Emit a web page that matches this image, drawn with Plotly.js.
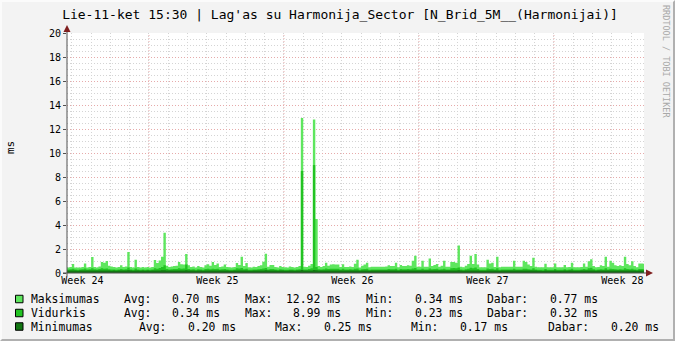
<!DOCTYPE html>
<html>
<head>
<meta charset="utf-8">
<script src="https://cdn.plot.ly/plotly-3.0.1.min.js"></script>
<style>
  html, body { margin: 0; padding: 0; background: #f3f3f3; }
  #wrap { position: relative; width: 675px; height: 341px; }
  #chart { width: 675px; height: 341px; }
  #frame { position: absolute; left: 0; top: 0; width: 675px; height: 341px; box-sizing: border-box;
           border-top: 2px solid #fbfbfb; border-left: 2px solid #fbfbfb;
           border-right: 2px solid #b0b0b0; border-bottom: 2px solid #b0b0b0; pointer-events: none; }
</style>
</head>
<body>
<div id="wrap"><div id="chart"></div><div id="frame"></div></div>
<script>
// ---- data (3-hour steps over 30 days, ms) ----
const stepDays = 0.125;
const weekLabels = ["Week 24", "Week 25", "Week 26", "Week 27", "Week 28"];
const weekLabelPos = [0.8, 7.8, 14.8, 21.8, 28.8];
const weekBoundaries = [4.25, 11.25, 18.25, 25.25];

const maksimumas = [
  0.45,0.5,0.75,0.45,0.45,0.45,0.5,0.8,0.45,0.5,
  1.33,0.5,0.45,0.55,0.92,0.86,1.0,0.6,0.55,0.5,
  0.45,0.5,0.64,0.5,0.55,1.75,0.5,0.45,1.1,0.5,
  0.45,0.5,0.45,0.5,0.45,0.5,1.08,0.83,1.05,1.36,
  3.36,0.6,0.5,0.55,0.58,0.6,0.92,0.72,0.7,1.58,
  0.64,0.5,0.55,0.45,0.58,0.5,0.45,0.65,0.72,0.6,
  0.92,0.67,0.8,0.5,0.55,0.7,0.5,0.47,0.45,0.5,
  0.83,0.67,1.36,0.58,0.83,0.47,0.45,0.53,0.5,0.58,
  0.64,0.94,1.6,0.53,0.67,0.67,0.5,0.45,0.58,0.5,
  0.47,0.45,0.55,0.5,0.45,0.5,0.58,12.92,0.53,0.5,
  0.6,0.75,12.8,4.5,0.58,0.5,0.58,0.86,0.6,0.7,
  0.72,0.7,0.7,0.5,0.72,0.5,0.5,0.55,0.5,0.78,
  1.1,0.45,0.6,0.7,0.86,0.47,0.53,0.53,0.53,0.53,
  0.53,0.53,0.55,0.64,0.58,0.58,0.86,0.47,0.67,0.58,
  0.58,0.64,0.6,1.03,1.44,0.53,0.53,1.03,0.53,0.53,
  1.2,0.58,0.67,0.75,0.53,0.6,1.03,0.53,0.53,0.92,
  0.92,0.86,2.3,0.53,0.47,0.6,0.75,1.44,0.75,1.58,
  0.7,0.47,0.47,0.47,1.1,0.8,0.86,0.5,1.36,0.47,
  0.53,0.53,0.53,0.53,0.53,1.03,0.53,0.53,0.53,1.03,
  0.92,0.7,0.58,1.28,0.53,0.47,0.47,0.47,0.78,0.47,
  0.47,0.47,0.8,0.47,0.47,0.47,0.67,0.47,0.5,0.86,
  0.47,0.47,0.47,0.5,0.8,0.53,0.97,1.14,0.58,0.47,
  0.5,0.64,0.58,1.36,0.53,1.03,0.86,0.64,0.58,0.64,
  0.58,1.36,0.75,0.64,0.97,0.58,0.47,0.8,0.8,0.77
];
const vidurkis = [
  0.3,0.32,0.36,0.3,0.28,0.3,0.32,0.38,0.3,0.32,
  0.4,0.32,0.3,0.34,0.4,0.36,0.38,0.32,0.3,0.3,
  0.28,0.3,0.34,0.3,0.32,0.45,0.3,0.28,0.38,0.3,
  0.28,0.3,0.28,0.3,0.28,0.3,0.4,0.36,0.42,0.5,
  0.64,0.34,0.3,0.32,0.34,0.34,0.4,0.36,0.38,0.7,
  0.34,0.3,0.32,0.28,0.32,0.3,0.28,0.34,0.36,0.32,
  0.36,0.34,0.36,0.3,0.32,0.34,0.3,0.28,0.28,0.3,
  0.4,0.38,0.42,0.32,0.36,0.28,0.28,0.3,0.3,0.32,
  0.34,0.38,0.42,0.3,0.34,0.34,0.3,0.28,0.32,0.3,
  0.28,0.28,0.3,0.3,0.28,0.3,0.32,8.5,0.3,0.3,
  0.34,0.4,8.99,0.5,0.32,0.3,0.32,0.38,0.34,0.36,
  0.36,0.36,0.36,0.3,0.36,0.3,0.3,0.32,0.3,0.36,
  0.38,0.28,0.32,0.34,0.36,0.28,0.3,0.3,0.3,0.3,
  0.3,0.3,0.3,0.34,0.32,0.32,0.36,0.28,0.34,0.32,
  0.32,0.34,0.32,0.38,0.42,0.3,0.3,0.36,0.3,0.3,
  0.38,0.32,0.34,0.36,0.3,0.32,0.36,0.3,0.3,0.4,
  0.42,0.4,0.46,0.3,0.28,0.32,0.36,0.44,0.4,0.46,
  0.34,0.28,0.28,0.28,0.38,0.34,0.36,0.3,0.4,0.28,
  0.3,0.3,0.3,0.3,0.3,0.36,0.3,0.3,0.3,0.36,
  0.36,0.32,0.3,0.4,0.3,0.28,0.28,0.28,0.34,0.28,
  0.28,0.28,0.34,0.28,0.28,0.28,0.32,0.28,0.3,0.36,
  0.28,0.28,0.28,0.3,0.34,0.3,0.4,0.44,0.32,0.28,
  0.3,0.32,0.3,0.4,0.3,0.36,0.34,0.32,0.3,0.32,
  0.3,0.4,0.34,0.32,0.36,0.3,0.28,0.34,0.34,0.32
];
const minimumas = [
  0.2,0.2,0.21,0.2,0.19,0.2,0.2,0.21,0.2,0.2,
  0.21,0.2,0.2,0.2,0.21,0.2,0.21,0.2,0.19,0.2,
  0.19,0.2,0.2,0.2,0.2,0.22,0.2,0.19,0.21,0.2,
  0.19,0.2,0.19,0.2,0.19,0.2,0.21,0.2,0.21,0.22,
  0.23,0.2,0.2,0.2,0.2,0.2,0.21,0.2,0.2,0.22,
  0.2,0.2,0.2,0.19,0.2,0.2,0.19,0.2,0.2,0.2,
  0.2,0.2,0.21,0.2,0.2,0.2,0.2,0.19,0.19,0.2,
  0.21,0.2,0.21,0.2,0.2,0.19,0.19,0.2,0.2,0.2,
  0.2,0.21,0.22,0.2,0.2,0.2,0.2,0.19,0.2,0.2,
  0.19,0.19,0.2,0.2,0.19,0.2,0.2,0.25,0.2,0.2,
  0.2,0.21,0.24,0.22,0.2,0.2,0.2,0.21,0.2,0.2,
  0.2,0.2,0.2,0.2,0.2,0.2,0.2,0.2,0.2,0.2,
  0.21,0.19,0.2,0.2,0.2,0.19,0.2,0.2,0.2,0.2,
  0.2,0.2,0.2,0.2,0.2,0.2,0.2,0.19,0.2,0.2,
  0.2,0.2,0.2,0.21,0.21,0.2,0.2,0.2,0.2,0.2,
  0.21,0.2,0.2,0.2,0.2,0.2,0.2,0.2,0.2,0.21,
  0.21,0.21,0.22,0.2,0.19,0.2,0.2,0.21,0.2,0.21,
  0.2,0.19,0.19,0.19,0.2,0.2,0.2,0.2,0.21,0.19,
  0.2,0.2,0.2,0.2,0.2,0.2,0.2,0.2,0.2,0.2,
  0.2,0.2,0.2,0.21,0.2,0.19,0.19,0.17,0.2,0.19,
  0.19,0.19,0.2,0.19,0.19,0.19,0.2,0.19,0.2,0.2,
  0.19,0.19,0.19,0.2,0.2,0.2,0.2,0.21,0.2,0.19,
  0.2,0.2,0.2,0.21,0.2,0.2,0.2,0.2,0.2,0.2,
  0.2,0.21,0.2,0.2,0.2,0.2,0.19,0.2,0.2,0.2
];

const seriesNames = ["Maksimumas", "Vidurkis", "Minimumas"];
const seriesColors = ["#5ee65e", "#22c322", "#127612"];
const statLabels = ["Avg:", "Max:", "Min:", "Dabar:"];
const statValues = [
  ["0.70 ms", "12.92 ms", "0.34 ms", "0.77 ms"],
  ["0.34 ms", "8.99 ms", "0.23 ms", "0.32 ms"],
  ["0.20 ms", "0.25 ms", "0.17 ms", "0.20 ms"]
];
const titleText = "Lie-11-ket 15:30 | Lag'as su Harmonija_Sector [N_Brid_5M__(Harmonijai)]";

// ---- geometry helpers (pixel -> paper) ----
const L = 67, T = 33, PW = 577, PH = 240;
const px2x = p => (p - L) / PW;
const py2y = p => (T + PH - p) / PH;
const MONO = "DejaVu Sans Mono, monospace";

function stepTrace(vals, color, name) {
  const x = vals.map((_, i) => i * stepDays);
  const y = vals.slice();
  x.push(vals.length * stepDays); y.push(vals[vals.length - 1]);
  return { x, y, name, type: "scatter", mode: "lines", line: { width: 0, shape: "hv" },
           fill: "tozeroy", fillcolor: color, hoverinfo: "skip", showlegend: false };
}
const data = [
  stepTrace(maksimumas, seriesColors[0], seriesNames[0]),
  stepTrace(vidurkis, seriesColors[1], seriesNames[1]),
  stepTrace(minimumas, seriesColors[2], seriesNames[2])
];

const shapes = [];
weekBoundaries.forEach(w => shapes.push({ type: "line", xref: "x", yref: "paper", x0: w, x1: w, y0: 0, y1: 1,
  layer: "below", line: { color: "#e6aaaa", width: 1, dash: "1px,2px" } }));
// axes lines and arrows
shapes.push({ type: "line", xref: "paper", yref: "paper", x0: 0, x1: 0, y0: py2y(276), y1: py2y(30),
  line: { color: "#505050", width: 1 } });
shapes.push({ type: "line", xref: "paper", yref: "paper", x0: px2x(63), x1: px2x(647), y0: 0, y1: 0,
  line: { color: "#505050", width: 1 } });
shapes.push({ type: "path", xref: "paper", yref: "paper",
  path: `M ${px2x(67)},${py2y(25)} L ${px2x(63.5)},${py2y(32)} L ${px2x(70.5)},${py2y(32)} Z`,
  fillcolor: "#7f1f1f", line: { width: 0 } });
shapes.push({ type: "path", xref: "paper", yref: "paper",
  path: `M ${px2x(653)},${py2y(273)} L ${px2x(646)},${py2y(269.5)} L ${px2x(646)},${py2y(276.5)} Z`,
  fillcolor: "#7f1f1f", line: { width: 0 } });

// legend rows
const rowY = [299, 313, 326.5];
const annotations = [];
function txt(xp, yp, text, anchor, size, extra) {
  const off = anchor === "right" ? 2 : (anchor === "left" ? -2 : 0);
  annotations.push(Object.assign({ xref: "paper", yref: "paper", x: px2x(xp + off), y: py2y(yp),
    text, showarrow: false, xanchor: anchor, yanchor: "middle",
    font: { family: MONO, size: size, color: "#000" } }, extra || {}));
}
const labelX = [[124, 244.5, 366, 486.5], [124, 244.5, 366, 486.5], [139, 274.6, 411, 547.6]];
const valueEnd = [[220, 341, 463, 597.5], [220, 341, 463, 597.5], [235.5, 372.4, 508, 658.6]];
for (let r = 0; r < 3; r++) {
  shapes.push({ type: "rect", xref: "paper", yref: "paper", x0: px2x(15.5), x1: px2x(23), y0: py2y(rowY[r] + 3.75), y1: py2y(rowY[r] - 3.75),
    fillcolor: seriesColors[r], line: { color: "#000", width: 1 } });
  txt(31, rowY[r], seriesNames[r], "left", 11.4);
  for (let k = 0; k < 4; k++) {
    txt(labelX[r][k], rowY[r], statLabels[k], "left", 11.4);
    txt(valueEnd[r][k], rowY[r], statValues[r][k], "right", 11.4);
  }
}
// y-axis title and watermark
txt(10, 148, "ms", "center", 11, { textangle: -90 });
txt(666.5, 61.5, "RRDTOOL / TOBI OETIKER", "center", 8.5, { textangle: 90, font: { family: MONO, size: 8.5, color: "#a8a8a8" } });

const layout = {
  width: 675, height: 341,
  margin: { l: L, r: 675 - L - PW, t: T, b: 341 - T - PH, pad: 0 },
  paper_bgcolor: "#f3f3f3", plot_bgcolor: "#ffffff",
  title: { text: titleText, font: { family: MONO, size: 13, color: "#000" }, xref: "container", x: 0.5037, y: 1 - 14 / 341, yanchor: "middle", xanchor: "center" },
  xaxis: { range: [0, 29.92], tickmode: "array", tickvals: weekLabelPos, ticktext: weekLabels,
           showgrid: false, zeroline: false, showline: false, ticks: "", fixedrange: true,
           tickfont: { family: MONO, size: 10, color: "#000" },
           minor: { tickmode: "linear", tick0: 0.25, dtick: 1, showgrid: true, gridcolor: "#d4d4d4", griddash: "1px,2px", gridwidth: 1, ticks: "" } },
  yaxis: { range: [0, 20], tickmode: "linear", tick0: 0, dtick: 2, showgrid: true, gridcolor: "#e6aaaa", griddash: "1px,2px", gridwidth: 1,
           zeroline: false, showline: false, ticks: "outside", ticklen: 3, tickcolor: "#505050", fixedrange: true,
           tickfont: { family: MONO, size: 10, color: "#000" },
           minor: { tickmode: "linear", tick0: 0, dtick: 0.5, showgrid: true, gridcolor: "#d4d4d4", griddash: "1px,2px", gridwidth: 1, ticks: "" } },
  shapes, annotations, showlegend: false
};
Plotly.newPlot("chart", data, layout, { staticPlot: true, displayModeBar: false });
</script>
</body>
</html>
